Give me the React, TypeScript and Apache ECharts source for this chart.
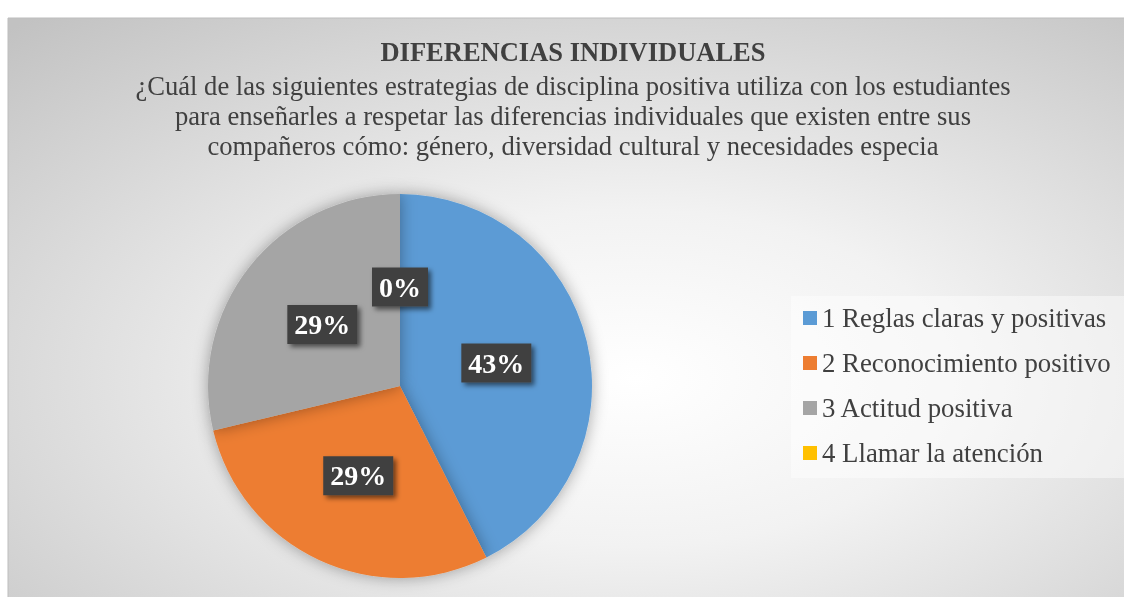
import React, { useEffect, useRef } from "react";
import * as echarts from "echarts";

const categories = [
  "1 Reglas claras y positivas",
  "2 Reconocimiento positivo",
  "3 Actitud positiva",
  "4 Llamar la atención",
];
const percentages = [43, 29, 29, 0];
const colors = ["#5B9BD5", "#ED7D31", "#A5A5A5", "#FFC000"];
const titleText = "DIFERENCIAS INDIVIDUALES";
const subtitleLines = [
  "¿Cuál de las siguientes estrategias de disciplina positiva utiliza con los estudiantes",
  "para enseñarles a respetar las diferencias individuales que existen entre sus",
  "compañeros cómo: género, diversidad cultural y necesidades especia",
];

const FONT = "'Liberation Serif', 'Times New Roman', serif";

export default function App() {
  const ref = useRef<HTMLDivElement>(null);
  useEffect(() => {
    if (!ref.current) return;
    const chart = echarts.init(ref.current, null, { renderer: "svg" });
    chart.setOption({
      animation: false,
      graphic: [
        {
          type: "rect",
          z: -10,
          silent: true,
          shape: { x: 8, y: 18, width: 1140, height: 600 },
          style: {
            fill: {
              type: "radial",
              x: 0.55,
              y: 0.6,
              r: 0.8,
              colorStops: [
                { offset: 0, color: "#ffffff" },
                { offset: 0.35, color: "#f2f2f2" },
                { offset: 1, color: "#c2c2c2" },
              ],
            },
            stroke: "#bdbdbd",
            lineWidth: 1,
          },
        },
      ],
      title: {
        text: titleText,
        subtext: subtitleLines.join("\n"),
        left: 568,
        textAlign: "center",
        top: 33,
        itemGap: 6,
        textStyle: {
          fontFamily: FONT,
          fontSize: 26.5,
          fontWeight: "bold",
          color: "#404040",
        },
        subtextStyle: {
          fontFamily: FONT,
          fontSize: 26.6,
          lineHeight: 30,
          color: "#404040",
        },
      },
      legend: {
        orient: "vertical",
        left: 791,
        top: 296,
        padding: [7, 14, 10, 12],
        backgroundColor: "rgba(255,255,255,0.45)",
        itemWidth: 14,
        itemHeight: 14,
        itemGap: 15,
        icon: "rect",
        data: categories,
        textStyle: {
          fontFamily: FONT,
          fontSize: 26.8,
          lineHeight: 30,
          color: "#404040",
        },
      },
      series: [
        {
          type: "pie",
          center: [400, 386],
          radius: 192,
          startAngle: 90,
          clockwise: true,
          color: colors,
          avoidLabelOverlap: false,
          itemStyle: {
            shadowBlur: 16,
            shadowColor: "rgba(0,0,0,0.35)",
          },
          label: {
            show: true,
            position: "inside",
            formatter: (p: any) => p.value + "%",
            color: "#ffffff",
            fontFamily: FONT,
            fontSize: 28,
            fontWeight: "bold",
            lineHeight: 30,
            backgroundColor: "#404040",
            padding: [6, 7, 3, 7],
            shadowBlur: 5,
            shadowOffsetX: 3,
            shadowOffsetY: 3,
            shadowColor: "rgba(0,0,0,0.55)",
          },
          labelLine: { show: false },
          emphasis: { disabled: true },
          data: categories.map((name, i) => ({ name, value: percentages[i] })),
        },
      ],
    });
    return () => chart.dispose();
  }, []);
  return (
    <div
      ref={ref}
      style={{ position: "fixed", left: 0, top: 0, width: 1124, height: 597 }}
    />
  );
}
